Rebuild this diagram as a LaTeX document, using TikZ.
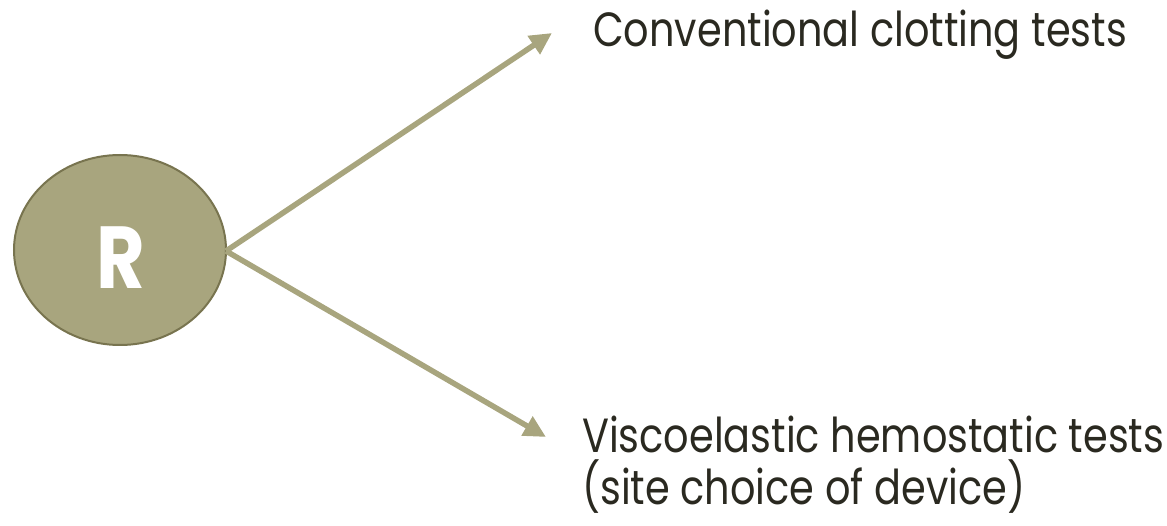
\documentclass[tikz,border=0pt]{standalone}
\usepackage{fontspec}
\setmainfont{Poppins}
\usetikzlibrary{arrows.meta}
\definecolor{olive}{HTML}{A8A57E}
\definecolor{olivedark}{HTML}{78744F}
\definecolor{ink}{HTML}{2A2920}
% narrow setting for the branch labels
\newcommand{\narrowtext}[1]{\scalebox{0.83}[1]{#1}}
\begin{document}
\begin{tikzpicture}[x=1pt,y=-1pt,
  branch/.style={draw=olive,line width=5.5pt,-{Triangle[length=22pt,width=21pt]}},
  label/.style={inner sep=0pt,anchor=base west,text=ink,font=\fontsize{48}{52}\selectfont}]
\useasboundingbox (0,0) rectangle (1167,526);
% root ellipse
\fill[olive,draw=olivedark,line width=2pt] (120,250) ellipse [x radius=106, y radius=95];
\node[inner sep=0pt,text=white,font=\bfseries\fontsize{88}{88}\selectfont] (r) at (121,258) {\scalebox{0.85}[1]{R}};
\coordinate (src) at (226,251);
% labels
\node[label] (conv) at (593,47) {\narrowtext{Conventional clotting tests}};
\node[label] (visc) at (582,452) {\narrowtext{Viscoelastic hemostatic tests}};
\node[label] (site) at (582,504) {\narrowtext{(site choice of device)}};
% branches
\coordinate (t1) at (552,33);
\coordinate (t2) at (546,437);
\draw[branch] (src) -- (t1);
\draw[branch] (src) -- (t2);
\end{tikzpicture}
\end{document}
